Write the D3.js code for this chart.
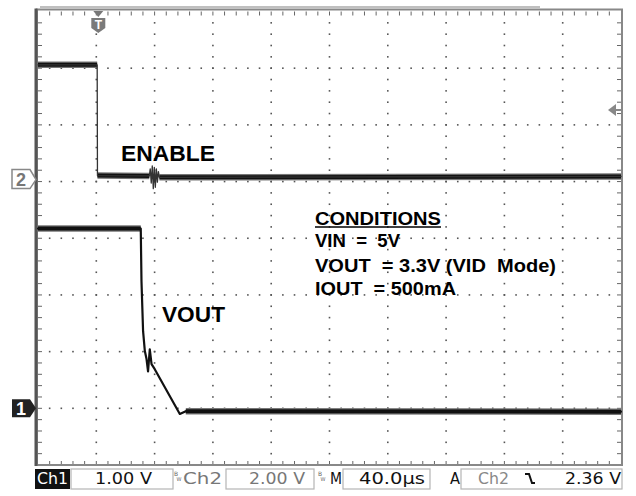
<!DOCTYPE html>
<html>
<head>
<meta charset="utf-8">
<script src="https://cdn.jsdelivr.net/npm/d3@7"></script>
<style>
  body { margin: 0; background: #fff; }
  svg { display: block; }
</style>
</head>
<body>
<svg id="scope" width="636" height="496"></svg>
<script>
// scope settings
const timeRange = [-40, 360];      // µs, 10 div x 40.0 µs
const divRange = [-4, 4];          // 8 vertical divisions
const ch1VoltsPerDiv = 1.00;
const ch2VoltsPerDiv = 2.00;
const ch1Ground = -3;              // divisions from centre
const ch2Ground = 1;

// Ch1 = VOUT
const ch1Time  = [-40, 30.5, 31.0, 32.1, 33.3, 34.4, 35.5, 36.7, 37.9, 40.1, 57.3, 61.4, 360];
const ch1Volts = [3.17, 3.17, 2.24, 1.36, 1.01, 0.88, 0.65, 1.04, 0.78, 0.69, -0.10, -0.05, -0.06];

// Ch2 = ENABLE
const ch2Time  = [-40, 0.6, 0.8, 36.4, 37.0, 37.7, 38.4, 39.1, 39.8, 40.5, 41.2, 41.9, 42.6, 43.3, 360];
const ch2Volts = [4.12, 4.12, 0.21, 0.20, 0.45, -0.05, 0.55, -0.25, 0.50, -0.20, 0.45, -0.02, 0.35, 0.15, 0.18];

const traceLabels = ["ENABLE", "VOUT"];
const conditionLines = ["CONDITIONS", "VIN  =  5V", "VOUT  = 3.3V (VID  Mode)", "IOUT  = 500mA"];

const svg = d3.select("#scope");

const x = d3.scaleLinear().domain(timeRange).range([38, 621]);
const yDiv = d3.scaleLinear().domain(divRange).range([465, 11.5]);
const y1 = v => yDiv(ch1Ground + v / ch1VoltsPerDiv);
const y2 = v => yDiv(ch2Ground + v / ch2VoltsPerDiv);

const divW = (x.range()[1] - x.range()[0]) / 10;
const divH = (yDiv.range()[0] - yDiv.range()[1]) / 8;
const [L, R] = x.range();
const B = yDiv.range()[0], T = yDiv.range()[1];

// --- graticule dots
const grid = svg.append("g").attr("fill", "#555");
const dots = [];
for (let i = 1; i < 10; i++) {
  for (let k = 1; k < 40; k++) dots.push([L + i * divW, T + k * divH / 5]);
}
for (let j = 1; j < 8; j++) {
  for (let k = 1; k < 50; k++) dots.push([L + k * divW / 5, T + j * divH]);
}
grid.selectAll("rect").data(dots).join("rect")
  .attr("x", d => d[0] - 0.8).attr("y", d => d[1] - 0.8)
  .attr("width", 1.6).attr("height", 1.6);

// --- border ticks
const ticks = svg.append("g").attr("stroke", "#666").attr("stroke-width", 1);
for (let k = 1; k < 50; k++) {
  const xx = L + k * divW / 5;
  ticks.append("line").attr("x1", xx).attr("x2", xx).attr("y1", T).attr("y2", T + 4);
  ticks.append("line").attr("x1", xx).attr("x2", xx).attr("y1", B).attr("y2", B - 4);
}
for (let k = 1; k < 40; k++) {
  const yy = T + k * divH / 5;
  ticks.append("line").attr("x1", L).attr("x2", L + 4).attr("y1", yy).attr("y2", yy);
  ticks.append("line").attr("x1", R).attr("x2", R - 4).attr("y1", yy).attr("y2", yy);
}

// --- frame
svg.append("line").attr("x1", 40).attr("x2", 540).attr("y1", 7).attr("y2", 7)
  .attr("stroke", "#aaa").attr("stroke-width", 1.5);
svg.append("rect").attr("x", L - 1).attr("y", T - 2).attr("width", R - L + 2).attr("height", B - T + 2)
  .attr("fill", "none").attr("stroke", "#888").attr("stroke-width", 2);
svg.append("line").attr("x1", L - 2).attr("x2", L - 2).attr("y1", T - 3).attr("y2", B + 1)
  .attr("stroke", "#555").attr("stroke-width", 3);

// --- traces
function drawTrace(times, volts, yFn, thin, thinColor) {
  const pts = times.map((t, i) => [x(t), yFn(volts[i])]);
  const g = svg.append("g").attr("fill", "none").attr("stroke-linecap", "round");
  // flat stretches carry the noise band -> thick
  const flat = d3.pairs(pts).filter(([a, b]) => Math.abs(b[1] - a[1]) < 3 && b[0] - a[0] > 8);
  [["#777", 6.5], ["#111", 4]].forEach(([c, w]) =>
    g.append("g").selectAll("line").data(flat).join("line")
      .attr("x1", d => d[0][0]).attr("y1", d => d[0][1])
      .attr("x2", d => d[1][0]).attr("y2", d => d[1][1])
      .attr("stroke", c).attr("stroke-width", w).attr("stroke-linecap", "butt"));
  g.append("path")
    .attr("d", d3.line()(pts))
    .attr("stroke", thinColor).attr("stroke-width", thin).attr("stroke-linejoin", "round");
}
drawTrace(ch2Time, ch2Volts, y2, 1.3, "#333");
drawTrace(ch1Time, ch1Volts, y1, 2.2, "#111");

// --- trace labels
const labelFont = "'Liberation Sans', Arial, sans-serif";
svg.append("text").text(traceLabels[0])
  .attr("x", 121).attr("y", 161).attr("textLength", 94).attr("lengthAdjust", "spacingAndGlyphs")
  .attr("font-family", labelFont).attr("font-weight", "bold").attr("font-size", 22).attr("fill", "#000");
svg.append("text").text(traceLabels[1])
  .attr("x", 162).attr("y", 322).attr("textLength", 63).attr("lengthAdjust", "spacingAndGlyphs")
  .attr("font-family", labelFont).attr("font-weight", "bold").attr("font-size", 22).attr("fill", "#000");

const condBase = [224.5, 247, 271.5, 295];
const condLen = [126, 85, 241, 141];
svg.append("g").selectAll("text").data(conditionLines).join("text")
  .attr("x", 315).attr("y", (d, i) => condBase[i])
  .attr("textLength", (d, i) => condLen[i]).attr("lengthAdjust", "spacingAndGlyphs")
  .attr("font-family", labelFont).attr("font-weight", "bold").attr("font-size", 18)
  .attr("fill", "#000").style("white-space", "pre")
  .text(d => d);
svg.append("line").attr("x1", 315).attr("x2", 441).attr("y1", 227).attr("y2", 227)
  .attr("stroke", "#000").attr("stroke-width", 1.6);

// --- channel ground markers
const g2 = y2(0) - 2;
svg.append("path")
  .attr("d", `M12,${g2 - 10}h18l6,10l-6,9h-18z`)
  .attr("fill", "#fff").attr("stroke", "#888").attr("stroke-width", 1.5);
svg.append("text").text("2").attr("x", 21).attr("y", g2 + 6.5)
  .attr("text-anchor", "middle").attr("font-family", labelFont).attr("font-weight", "bold")
  .attr("font-size", 18).attr("fill", "#777");
svg.append("path")
  .attr("d", `M12,${y1(0) - 9}h18l6,9l-6,9h-18z`)
  .attr("fill", "#222");
svg.append("text").text("1").attr("x", 21).attr("y", y1(0) + 6.5)
  .attr("text-anchor", "middle").attr("font-family", labelFont).attr("font-weight", "bold")
  .attr("font-size", 18).attr("fill", "#fff");

// --- trigger position "T" and trigger level arrow
const tx = x(0) + 2;
svg.append("path").attr("d", `M${tx - 5},11h10l-5,6z`).attr("fill", "#777");
svg.append("path")
  .attr("d", `M${tx - 7},18h14v10l-7,5l-7,-5z`).attr("fill", "#7a7a7a");
svg.append("text").text("T").attr("x", tx).attr("y", 29).attr("text-anchor", "middle")
  .attr("font-family", labelFont).attr("font-weight", "bold").attr("font-size", 12).attr("fill", "#fff");
const trigY = 110;
svg.append("path").attr("d", `M608,${trigY}l8,-6v12z`).attr("fill", "#888");
svg.append("line").attr("x1", 614).attr("x2", 621).attr("y1", trigY).attr("y2", trigY)
  .attr("stroke", "#888").attr("stroke-width", 2);

// --- readout bar
const readFont = "'DejaVu Sans', 'Liberation Sans', sans-serif";
const bar = svg.append("g").attr("font-family", readFont).attr("font-size", 16);
const boxTop = 469, boxH = 20, base = 484;
bar.append("rect").attr("x", 35).attr("y", boxTop).attr("width", 35).attr("height", boxH).attr("fill", "#111");
[[71, 102], [226, 88], [343, 87], [461, 161]].forEach(([bx, bw]) =>
  bar.append("rect").attr("x", bx).attr("y", boxTop).attr("width", bw).attr("height", boxH)
    .attr("fill", "none").attr("stroke", "#b5b5b5").attr("stroke-width", 1.2));
const readout = [
  { t: "Ch1", x: 37, len: 31, c: "#fff" },
  { t: "1.00 V", x: 95, len: 57, c: "#111" },
  { t: "Ch2", x: 183, len: 39, c: "#777" },
  { t: "2.00 V", x: 249, len: 56, c: "#777" },
  { t: "M", x: 330, len: 12, c: "#111" },
  { t: "40.0\u00b5s", x: 359, len: 66, c: "#111" },
  { t: "A", x: 450, len: 10, c: "#111" },
  { t: "Ch2", x: 478, len: 31, c: "#888" },
  { t: "2.36 V", x: 565, len: 56, c: "#111" }
];
bar.selectAll("text.r").data(readout).join("text").attr("class", "r")
  .attr("x", d => d.x).attr("y", base).attr("fill", d => d.c)
  .attr("textLength", d => d.len).attr("lengthAdjust", "spacingAndGlyphs")
  .text(d => d.t);
// bandwidth-limit glyphs
[174, 318].forEach(bx => {
  bar.append("text").text("B").attr("x", bx).attr("y", 476).attr("font-size", 6).attr("fill", "#666");
  bar.append("text").text("W").attr("x", bx + 2.5).attr("y", 481).attr("font-size", 5).attr("fill", "#666");
});
// falling-edge slope symbol
bar.append("path").attr("d", "M525,474h4l3,9h3").attr("fill", "none")
  .attr("stroke", "#111").attr("stroke-width", 2);
</script>
</body>
</html>
